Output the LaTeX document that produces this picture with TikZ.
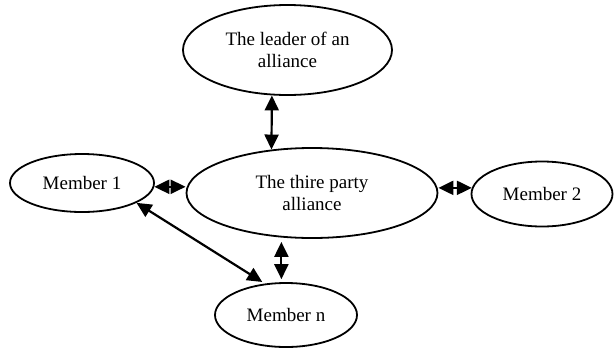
\documentclass[tikz,border=0pt]{standalone}
\usepackage{fontspec}
\setmainfont{Liberation Serif}
\usetikzlibrary{arrows.meta,positioning,shapes.geometric}
\tikzset{
    every picture/.style={line cap=round,line join=round},
    partyellipse/.style={draw=black,ellipse,line width=0.9pt,inner sep=1pt,
      font=\fontsize{9.5}{10.8}\selectfont,align=center},
    linkarrow/.style={{Triangle[length=7.5pt,width=7pt]}-{Triangle[length=7.5pt,width=7pt]},
      draw=black,line width=1.1pt}
}
\begin{document}
\begin{tikzpicture}[on grid]
    \useasboundingbox (0,0) rectangle (308pt,-174.5pt);
    \node[partyellipse,minimum width=125.5pt,minimum height=45pt] (alliance) at (156pt,-96.5pt) {The thire party\\alliance};
    \node[partyellipse,minimum width=104.5pt,minimum height=45pt,above left=71.5pt and 12.25pt of alliance] (leader) {The leader of an\\alliance};
    \node[partyellipse,minimum width=72pt,minimum height=29pt,above left=5pt and 115pt of alliance] (member1) {Member 1};
    \node[partyellipse,minimum width=70.5pt,minimum height=32.5pt,below right=0.5pt and 115pt of alliance] (member2) {Member 2};
    \node[partyellipse,minimum width=71pt,minimum height=32pt,below left=61pt and 13pt of alliance] (membern) {Member n};
    \draw[linkarrow] (leader.-109) -- (alliance.133);
    \draw[linkarrow] (member1.-3) -- (member1.-3 -| alliance.west);
    \draw[linkarrow] (member2.175 -| alliance.east) -- (member2.175);
    \draw[linkarrow,shorten <=1.5pt,shorten >=1.5pt] (membern.98 |- alliance.south) -- (membern.98);
    \draw[linkarrow,shorten >=1.5pt] (member1.-20) -- (membern.124);
\end{tikzpicture}
\end{document}
